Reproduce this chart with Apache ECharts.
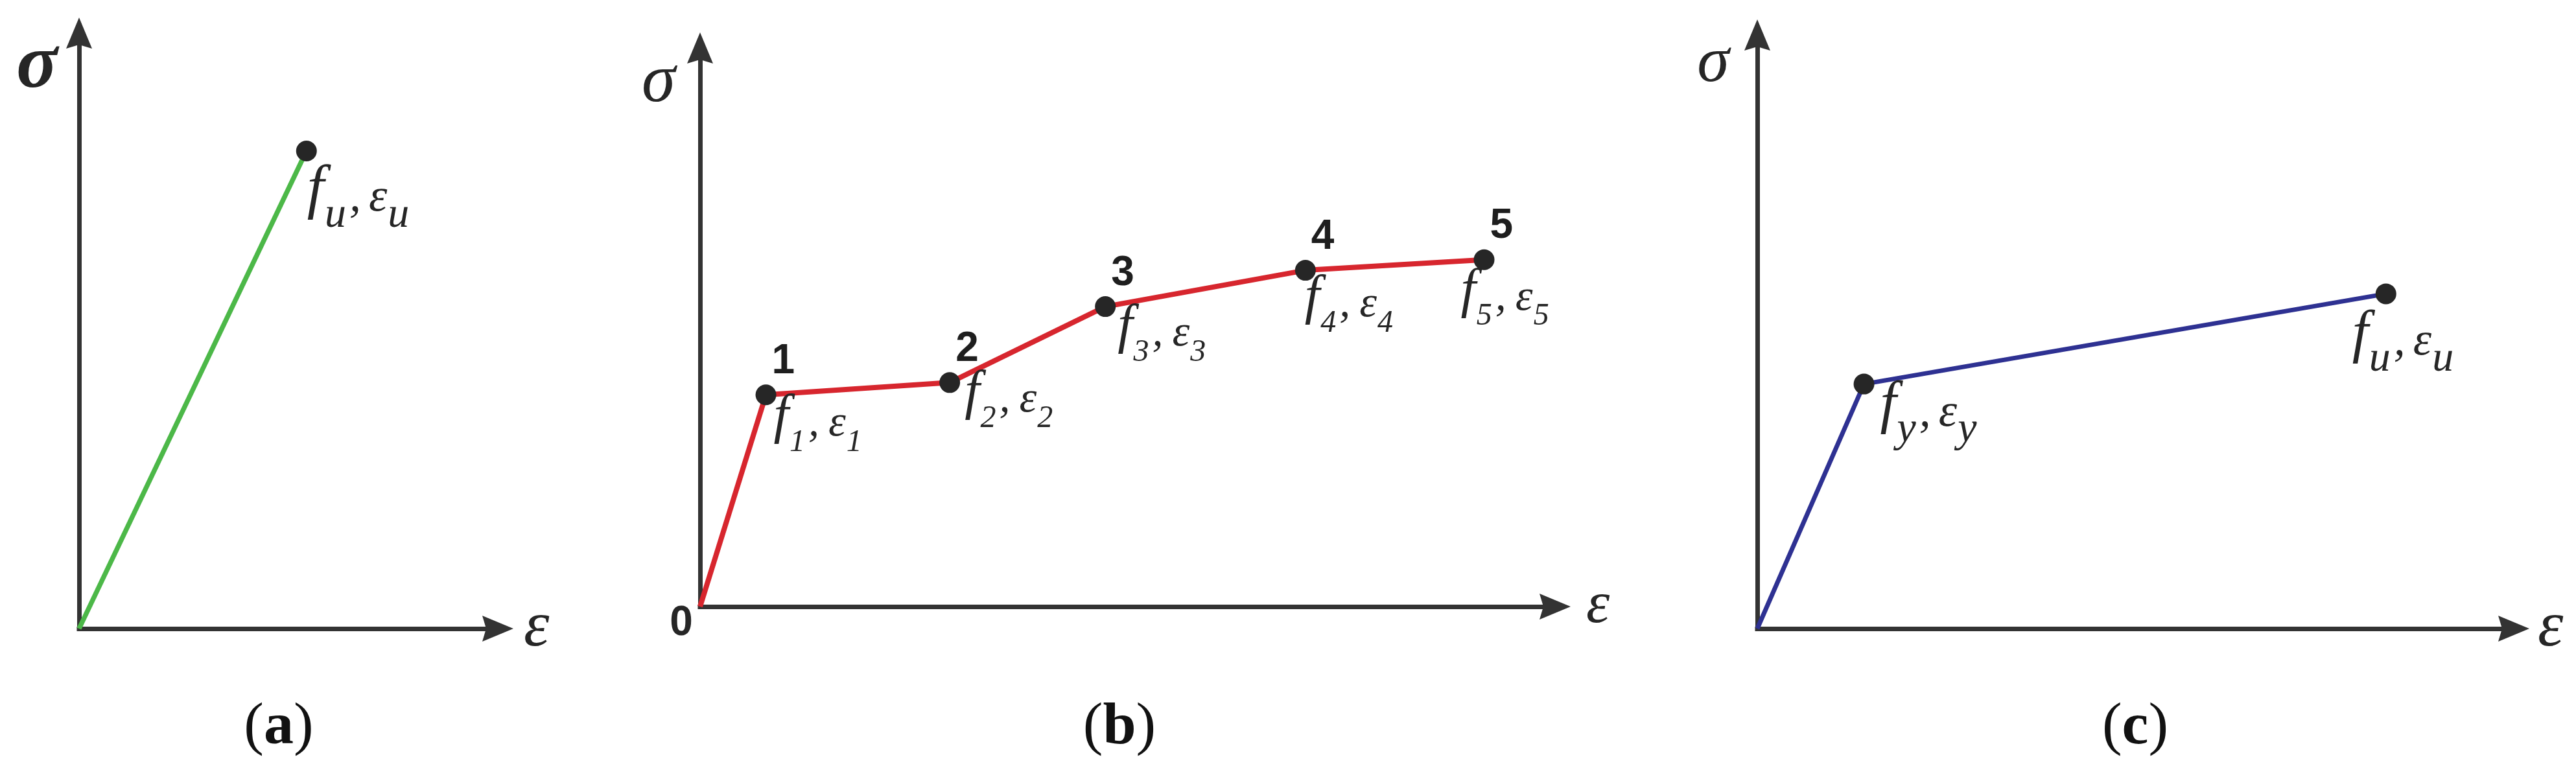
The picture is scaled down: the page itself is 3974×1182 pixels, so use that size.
<!DOCTYPE html>
<html>
<head>
<meta charset="utf-8">
<title>stress-strain models</title>
<script src="https://cdn.jsdelivr.net/npm/echarts@6/dist/echarts.min.js"></script>
<style>
  html, body { margin: 0; padding: 0; background: #fff; }
  #chart { width: 3974px; height: 1182px; }
</style>
</head>
<body>
<div id="chart"></div>
<script>
// (a) linear elastic up to failure
const aStrain = [0, 54.3]
const aStress = [0, 80.2]
const aSub = ['u']
// (b) multilinear curve, points 1..5
const bStrain = [0, 7.7, 29.2, 47.4, 70.8, 91.7]
const bStress = [0, 37.9, 40.1, 53.7, 60.2, 62.1]
const bSub = ['1', '2', '3', '4', '5']
// (c) bilinear: yield + ultimate
const cStrain = [0, 14.1, 83.1]
const cStress = [0, 41.2, 56.4]
const cSub = ['y', 'u']

const panelTags = ['a', 'b', 'c']
const stressName = 'σ'
const strainName = 'ε'

const SERIF = 'Liberation Serif'
const SANS = 'Liberation Sans'
const INK = '#262626'
const AXIS = '#333333'
const ARROW = 'path://M20,0L40,48L20,42L0,48Z'

// rich styles for f_i,ε_i (subscripts pushed down with top padding)
function subRich(fF, fM, fS, drop, gap) {
  const lf = Math.round(fF * 1.1)
  const base = lf / 2 + 0.33 * fF
  const pm = Math.max(0, Math.round(base - fM / 2 - 0.33 * fM))
  const ps = Math.max(0, Math.round(base + drop - fS / 2 - 0.33 * fS))
  const common = {
    fontFamily: SERIF, fontStyle: 'italic', color: INK, verticalAlign: 'top',
    textBorderWidth: 0, textShadowBlur: 0
  }
  return {
    f: Object.assign({}, common, { fontSize: fF, lineHeight: lf }),
    c: Object.assign({}, common, { fontSize: fM, lineHeight: fM, padding: [pm, gap, 0, 0] }),
    m: Object.assign({}, common, { fontSize: fM, lineHeight: fM, padding: [pm, 0, 0, 0] }),
    s: Object.assign({}, common, { fontSize: fS, lineHeight: fS, padding: [ps, 5, 0, 1] })
  }
}

function pairs(xs, ys) {
  return xs.map((x, i) => [x, ys[i]])
}

// label nudges (px, from dot centre) so the text sits like in the figure
const aNudge = [[1, 14]]
const bNudge = [[12, -6], [23, -24], [19, -9], [-1, 2], [-36, 8]]
const cNudge = [[25, -10], [-52, 20]]

const panels = [
  { grid: { left: 122, top: 51, width: 646, height: 919 }, xs: aStrain, ys: aStress, sub: aSub,
    color: '#4cb848', lw: 7.5, rich: subRich(94, 72, 66, 25, 12), nudge: aNudge,
    sigma: { size: 118, bold: true, gap: -53, shift: 130 }, eps: { size: 100, gap: 40, up: 23 } },
  { grid: { left: 1080, top: 74, width: 1319, height: 862 }, xs: bStrain, ys: bStress, sub: bSub,
    color: '#d7262e', lw: 8, rich: subRich(84, 68, 48, 22, 14), nudge: bNudge,
    sigma: { size: 105, bold: false, gap: -54, shift: 128 }, eps: { size: 92, gap: 48, up: 25 } },
  { grid: { left: 2711, top: 54, width: 1167, height: 916 }, xs: cStrain, ys: cStress, sub: cSub,
    color: '#2e3192', lw: 7, rich: subRich(90, 72, 66, 24, 12), nudge: cNudge,
    sigma: { size: 100, bold: false, gap: -45, shift: 136 }, eps: { size: 100, gap: 37, up: 15 } }
]

const grid = []
const xAxis = []
const yAxis = []
const series = []

panels.forEach((p, i) => {
  grid.push(Object.assign({ outerBoundsMode: 'none', containLabel: false }, p.grid))

  const axisLine = {
    show: true,
    onZero: false,
    symbol: ['none', ARROW],
    symbolSize: [40, 48],
    lineStyle: { color: AXIS, width: 7, cap: 'square' }
  }

  xAxis.push({
    type: 'value', gridIndex: i, min: 0, max: 100, interval: 50,
    axisLine: axisLine,
    axisTick: { show: false },
    splitLine: { show: false },
    axisLabel: i === 1 ? {
      show: true,
      formatter: v => (v === 0 ? '0' : ''),
      fontFamily: SANS, fontWeight: 'bold', fontSize: 64, color: INK,
      margin: 26, verticalAlign: 'middle', padding: [0, 58, 0, 0]
    } : { show: false },
    name: strainName,
    nameLocation: 'end',
    nameGap: p.eps.gap,
    nameTextStyle: {
      fontFamily: SERIF, fontStyle: 'italic', fontSize: p.eps.size, color: INK,
      align: 'left', verticalAlign: 'middle', padding: [0, 0, p.eps.up, 0]
    }
  })

  yAxis.push({
    type: 'value', gridIndex: i, min: 0, max: 100, interval: 50,
    axisLine: axisLine,
    axisTick: { show: false },
    splitLine: { show: false },
    axisLabel: { show: false },
    name: stressName,
    nameLocation: 'end',
    nameGap: p.sigma.gap,
    nameTextStyle: {
      fontFamily: SERIF, fontStyle: 'italic', fontWeight: p.sigma.bold ? 'bold' : 'normal',
      fontSize: p.sigma.size, color: INK,
      align: 'center', verticalAlign: 'middle', padding: [0, p.sigma.shift, 0, 0]
    }
  })

  const pts = pairs(p.xs, p.ys)

  series.push({
    type: 'line', xAxisIndex: i, yAxisIndex: i,
    data: pts,
    symbol: 'none', showSymbol: false, silent: true,
    lineStyle: { color: p.color, width: p.lw, join: 'round' },
    z: 3
  })

  // marked points (origin has no dot)
  series.push({
    type: 'scatter', xAxisIndex: i, yAxisIndex: i,
    data: pts.slice(1).map((v, k) => ({
      value: v,
      label: { offset: p.nudge[k] }
    })),
    symbol: 'circle', symbolSize: 32, silent: true,
    itemStyle: { color: INK, opacity: 1 },
    label: {
      show: true,
      position: 'inside',
      align: 'left',
      verticalAlign: 'top',
      color: INK,
      textBorderWidth: 0,
      formatter: d => {
        const t = p.sub[d.dataIndex]
        return `{f|f}{s|${t}}{c|,}{m|ε}{s|${t}}`
      },
      rich: p.rich
    },
    z: 4
  })
})

// point numbers for (b), placed above each dot
series.push({
  type: 'scatter', xAxisIndex: 1, yAxisIndex: 1,
  data: pairs(bStrain, bStress).slice(1),
  symbol: 'circle', symbolSize: 2, silent: true,
  itemStyle: { color: '#ffffff', opacity: 0 },
  label: {
    show: true,
    position: 'top',
    distance: 0,
    align: 'left',
    verticalAlign: 'middle',
    offset: [9, -50],
    opacity: 1,
    formatter: d => bSub[d.dataIndex],
    fontFamily: SANS, fontWeight: 'bold', fontSize: 64, color: '#1e1e1e',
    textBorderWidth: 0
  },
  z: 5
})

const tagX = [430, 1727, 3294]
const graphic = panelTags.map((t, i) => ({
  type: 'text',
  x: tagX[i],
  y: 1123,
  silent: true,
  style: {
    text: `{p|(}{b|${t}}{p|)}`,
    align: 'center',
    verticalAlign: 'middle',
    rich: {
      p: { fontFamily: SERIF, fontSize: 92, fill: '#111' },
      b: { fontFamily: SERIF, fontSize: 92, fontWeight: 'bold', fill: '#111' }
    }
  }
}))

const chart = echarts.init(document.getElementById('chart'), null, { renderer: 'canvas' })
chart.setOption({
  backgroundColor: '#ffffff',
  animation: false,
  grid: grid,
  xAxis: xAxis,
  yAxis: yAxis,
  series: series,
  graphic: graphic
})
</script>
</body>
</html>
